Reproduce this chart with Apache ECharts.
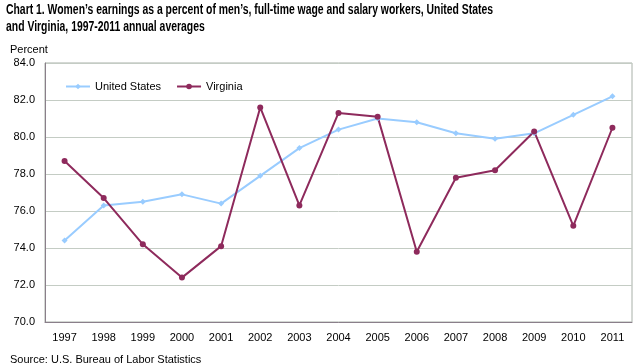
<!DOCTYPE html>
<html><head><meta charset="utf-8">
<script src="https://cdn.jsdelivr.net/npm/echarts@6/dist/echarts.min.js"></script>
<style>html,body{margin:0;padding:0;background:#fff}#c{width:636px;height:364px}</style>
</head><body><div id="c"></div>
<script>
const years = ["1997","1998","1999","2000","2001","2002","2003","2004","2005","2006","2007","2008","2009","2010","2011"];
const unitedStates = [74.4,76.3,76.5,76.9,76.4,77.9,79.4,80.4,81.0,80.8,80.2,79.9,80.2,81.2,82.2];
const virginia = [78.7,76.7,74.2,72.4,74.1,81.6,76.3,81.3,81.1,73.8,77.8,78.2,80.3,75.2,80.5];
const yTicks = [70,72,74,76,78,80,82,84];
const titleLine1 = "Chart 1. Women\u2019s earnings as a percent of men\u2019s, full-time wage and salary workers, United States";
const titleLine2 = "and Virginia, 1997-2011 annual averages";

const F = 'Arial, "Liberation Sans", sans-serif';
const titleFont = 'bold 14px "Liberation Sans", Arial, sans-serif';
const mc = document.createElement('canvas').getContext('2d');
mc.font = titleFont;
const tScale = 487 / mc.measureText(titleLine1).width;

const chart = echarts.init(document.getElementById('c'), null, {renderer:'canvas'});
chart.setOption({
  animation:false,
  graphic:[
    {type:'text', x:6, y:2, scaleX:tScale, scaleY:1, originX:0, originY:0,
     style:{text:titleLine1 + "\n" + titleLine2, font:titleFont, fill:'#000', lineHeight:17}}
  ],
  title:[
    {text:"Percent", left:5, top:39, textStyle:{fontFamily:F, fontSize:11, fontWeight:'normal', color:'#000'}},
    {text:"Source: U.S. Bureau of Labor Statistics", left:5, top:349, textStyle:{fontFamily:F, fontSize:11, fontWeight:'normal', color:'#000'}}
  ],
  legend:{
    left:60, top:76, itemWidth:24, itemHeight:7, itemGap:15,
    textStyle:{fontFamily:F, fontSize:11, color:'#000'},
    data:['United States','Virginia']
  },
  grid:{left:45, right:4, top:63, bottom:42, show:true, borderColor:'#a8b0a8', borderWidth:1},
  xAxis:{type:'category', data:years, boundaryGap:true,
    axisLine:{lineStyle:{color:'#8a7f8a'}},
    axisTick:{alignWithLabel:true, length:5, lineStyle:{color:'#8a7f8a'}},
    axisLabel:{fontFamily:F, fontSize:11, color:'#000', margin:10}},
  yAxis:{type:'value', min:yTicks[0], max:yTicks[yTicks.length-1], interval:2,
    axisLine:{show:true, lineStyle:{color:'#8a7f8a'}},
    axisTick:{show:false},
    splitLine:{lineStyle:{color:'#c4ccc4'}},
    axisLabel:{fontFamily:F, fontSize:11, color:'#000', margin:10, formatter:v=>v.toFixed(1)}},
  series:[
    {name:'United States', type:'line', data:unitedStates, symbol:'diamond', symbolSize:6,
     lineStyle:{color:'#99ccff', width:2}, itemStyle:{color:'#99ccff'}},
    {name:'Virginia', type:'line', data:virginia, symbol:'circle', symbolSize:6,
     lineStyle:{color:'#8e2a5c', width:2}, itemStyle:{color:'#8e2a5c'}}
  ]
});
</script></body></html>
